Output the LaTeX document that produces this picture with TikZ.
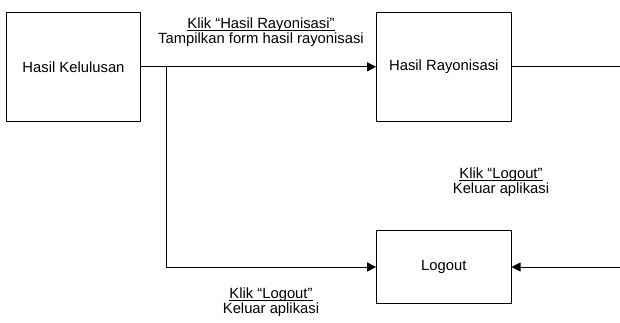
\documentclass[tikz,border=0pt]{standalone}
\usepackage{fontspec}
\setmainfont{Liberation Sans}
\usetikzlibrary{arrows.meta}
\newcommand\myul[1]{\underline{\smash{#1}}}
\begin{document}
\begin{tikzpicture}[x=1pt,y=-1pt,
  font=\fontsize{14.8}{15.5}\selectfont,
  box/.style={draw=black,line width=0.9pt,rectangle,inner sep=0pt,minimum width=134.5pt},
  conn/.style={draw=black,line width=0.9pt},
  arr/.style={conn,-{Triangle[length=9pt,width=9pt]}},
  lbl/.style={align=center,inner sep=0pt}]
\useasboundingbox (0,0) rectangle (620,322);
\node[box,minimum height=109pt] (kel) at (73.5,66.8) {Hasil Kelulusan};
\node[box,minimum height=109pt] (ray) at (443.8,66.8) {Hasil Rayonisasi};
\node[box,minimum height=73.4pt] (out) at (443.8,267) {Logout};
\coordinate (br) at (166,66.8);
\coordinate (rt) at (620,66.8);
\coordinate (rb) at (620,267);
\draw[arr] (kel.east) -- (ray.west);
\draw[arr] (br) |- (out.west);
\draw[conn] (ray.east) -- (rt);
\draw[arr] (rb) -- (out.east);
\node[lbl,anchor=base] (l1a) at (261,28.3) {\myul{Klik “Hasil Rayonisasi”}};
\node[lbl,anchor=base] (l1b) at (261,43.3) {Tampilkan form hasil rayonisasi};
\node[lbl,anchor=base] (l2a) at (501,178.3) {\myul{Klik “Logout”}};
\node[lbl,anchor=base] (l2b) at (501,193.3) {Keluar aplikasi};
\node[lbl,anchor=base] (l3a) at (271,298.3) {\myul{Klik “Logout”}};
\node[lbl,anchor=base] (l3b) at (271,313.3) {Keluar aplikasi};
\end{tikzpicture}
\end{document}
